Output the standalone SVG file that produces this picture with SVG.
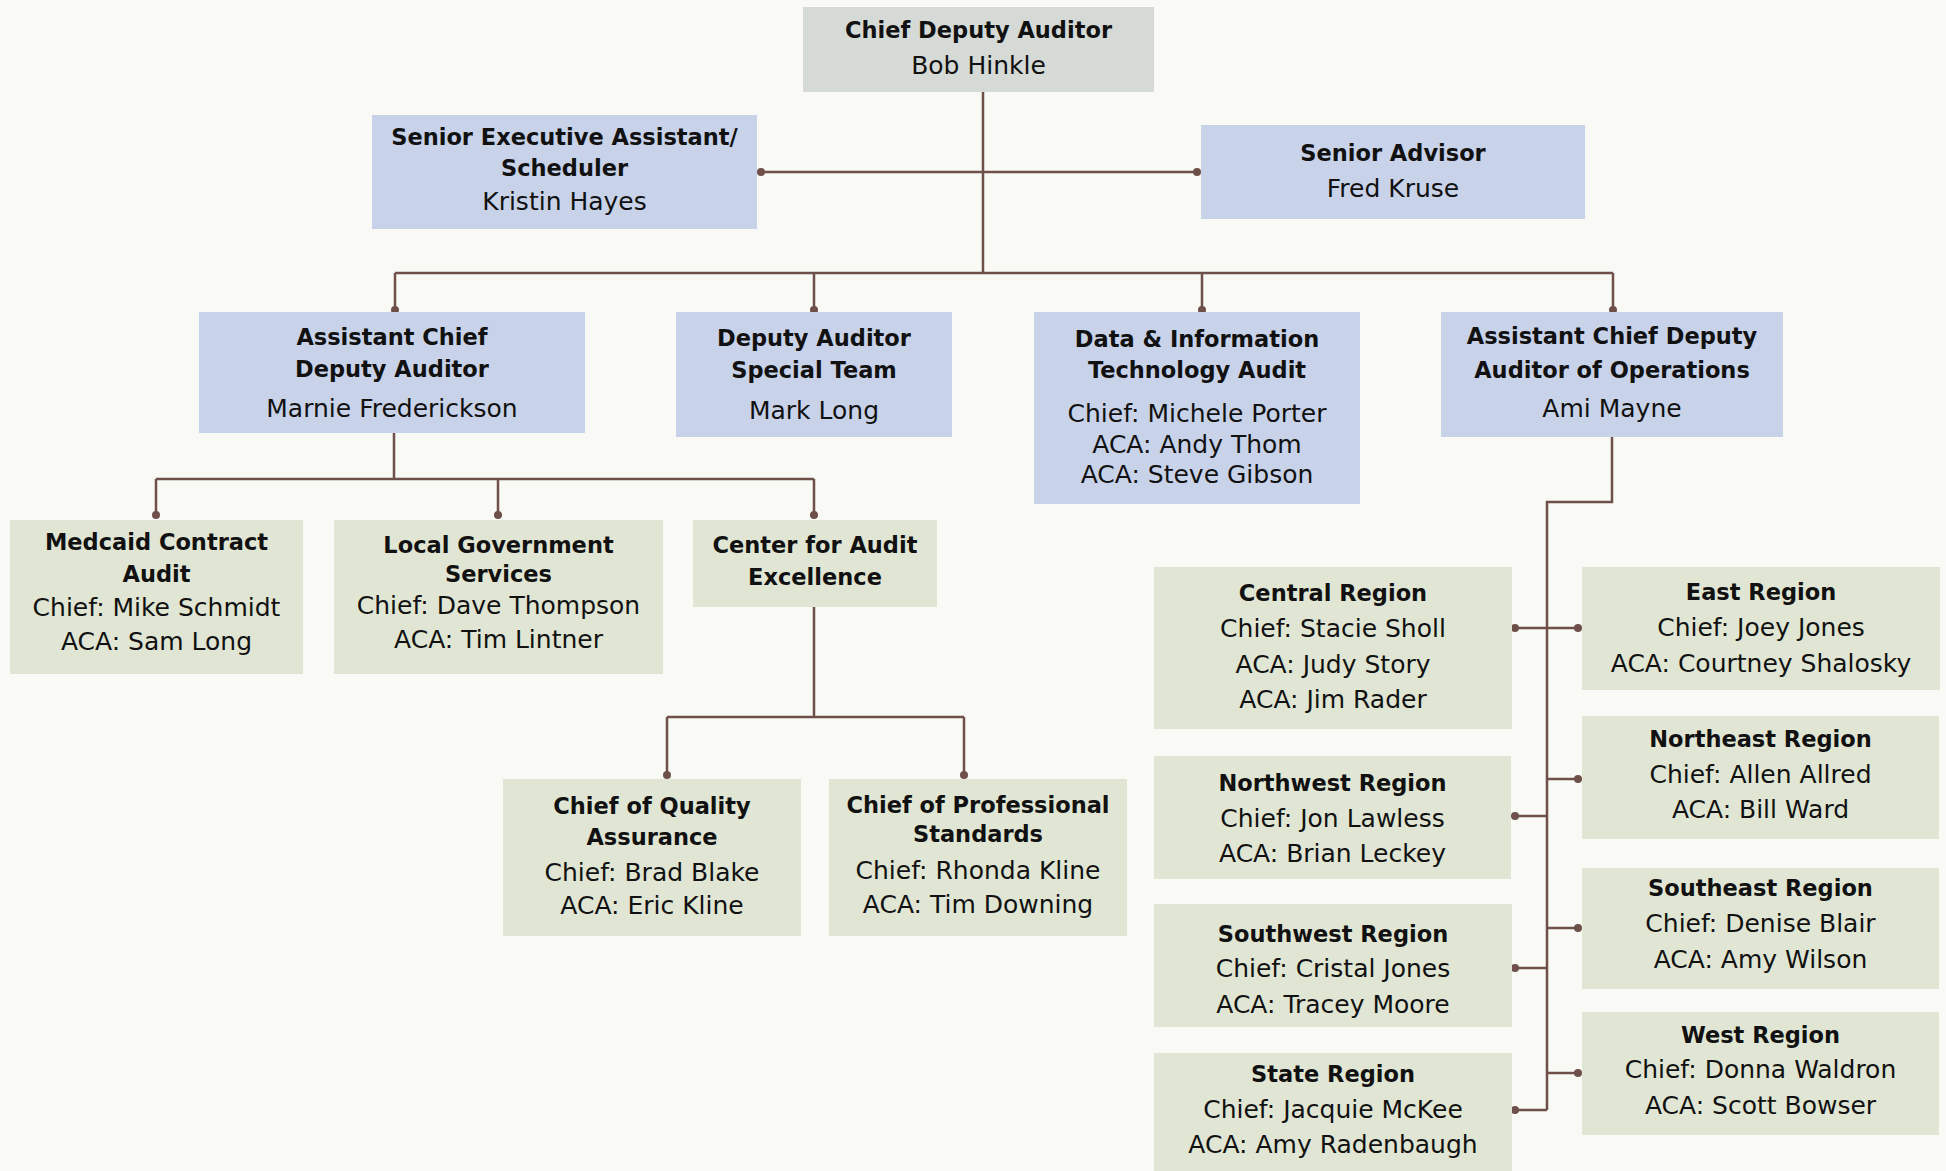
<svg xmlns="http://www.w3.org/2000/svg" width="1946" height="1171" viewBox="0 0 1946 1171">
<style>
.bg{fill:#f9f9f5}
.grey{fill:#d6dad6}
.blue{fill:#c8d3ea}
.green{fill:#e0e6d3}
text{font-family:"DejaVu Sans","Liberation Sans",sans-serif;text-anchor:middle;fill:#111}
.b{font-weight:bold;font-size:22.5px}
.r{font-size:25px}
.ln{stroke:#6e4f49;stroke-width:2.5;fill:none}
.dot{fill:#6e4f49}
</style>
<rect class="bg" x="0" y="0" width="1946" height="1171"/>

<g id="connectors">
<path class="ln" d="M983 92V273M761 172H1197M395 273H1613M395 273V310M814 273V310M1202 273V310M1613 273V310"/>
<path class="ln" d="M394 433V479M156 479H814M156 479V515M498 479V515M814 479V515"/>
<path class="ln" d="M814 607V717M667 717H964M667 717V775M964 717V775"/>
<path class="ln" d="M1612 437V502H1547V1110"/>
<path class="ln" d="M1515 628H1578M1515 816H1547M1547 779H1578M1547 928H1578M1515 968H1547M1515 1110H1547M1547 1073H1578"/>
<g class="dot">
<circle cx="761" cy="172" r="4"/><circle cx="1197" cy="172" r="4"/>
<circle cx="395" cy="310" r="4"/><circle cx="814" cy="310" r="4"/><circle cx="1202" cy="310" r="4"/><circle cx="1613" cy="310" r="4"/>
<circle cx="156" cy="515" r="4"/><circle cx="498" cy="515" r="4"/><circle cx="814" cy="515" r="4"/>
<circle cx="667" cy="775" r="4"/><circle cx="964" cy="775" r="4"/>
<circle cx="1515" cy="628" r="4"/><circle cx="1578" cy="628" r="4"/>
<circle cx="1515" cy="816" r="4"/><circle cx="1578" cy="779" r="4"/>
<circle cx="1578" cy="928" r="4"/><circle cx="1515" cy="968" r="4"/>
<circle cx="1515" cy="1110" r="4"/><circle cx="1578" cy="1073" r="4"/>
</g>
</g>

<g id="chief-deputy-auditor">
<rect class="grey" x="803" y="7" width="351" height="85"/>
<text class="b" x="978.5" y="38">Chief Deputy Auditor</text>
<text class="r" x="978.5" y="74">Bob Hinkle</text>
</g>
<g id="senior-exec-assistant">
<rect class="blue" x="372" y="115" width="385" height="114"/>
<text class="b" x="564.5" y="145">Senior Executive Assistant/</text>
<text class="b" x="564.5" y="176">Scheduler</text>
<text class="r" x="564.5" y="210">Kristin Hayes</text>
</g>
<g id="senior-advisor">
<rect class="blue" x="1201" y="125" width="384" height="94"/>
<text class="b" x="1393" y="161">Senior Advisor</text>
<text class="r" x="1393" y="197">Fred Kruse</text>
</g>
<g id="acda">
<rect class="blue" x="199" y="312" width="386" height="121"/>
<text class="b" x="392" y="345">Assistant Chief</text>
<text class="b" x="392" y="377">Deputy Auditor</text>
<text class="r" x="392" y="417">Marnie Frederickson</text>
</g>
<g id="special-team">
<rect class="blue" x="676" y="312" width="276" height="125"/>
<text class="b" x="814" y="346">Deputy Auditor</text>
<text class="b" x="814" y="378">Special Team</text>
<text class="r" x="814" y="419">Mark Long</text>
</g>
<g id="data-it-audit">
<rect class="blue" x="1034" y="312" width="326" height="192"/>
<text class="b" x="1197" y="347">Data &amp; Information</text>
<text class="b" x="1197" y="378">Technology Audit</text>
<text class="r" x="1197" y="422">Chief: Michele Porter</text>
<text class="r" x="1197" y="453">ACA: Andy Thom</text>
<text class="r" x="1197" y="483">ACA: Steve Gibson</text>
</g>
<g id="acda-operations">
<rect class="blue" x="1441" y="312" width="342" height="125"/>
<text class="b" x="1612" y="344">Assistant Chief Deputy</text>
<text class="b" x="1612" y="378">Auditor of Operations</text>
<text class="r" x="1612" y="417">Ami Mayne</text>
</g>
<g id="medcaid">
<rect class="green" x="10" y="520" width="293" height="154"/>
<text class="b" x="156.5" y="550">Medcaid Contract</text>
<text class="b" x="156.5" y="582">Audit</text>
<text class="r" x="156.5" y="616">Chief: Mike Schmidt</text>
<text class="r" x="156.5" y="650">ACA: Sam Long</text>
</g>
<g id="local-gov">
<rect class="green" x="334" y="520" width="329" height="154"/>
<text class="b" x="498.5" y="553">Local Government</text>
<text class="b" x="498.5" y="582">Services</text>
<text class="r" x="498.5" y="614">Chief: Dave Thompson</text>
<text class="r" x="498.5" y="648">ACA: Tim Lintner</text>
</g>
<g id="center-audit-excellence">
<rect class="green" x="693" y="520" width="244" height="87"/>
<text class="b" x="815" y="553">Center for Audit</text>
<text class="b" x="815" y="585">Excellence</text>
</g>
<g id="quality-assurance">
<rect class="green" x="503" y="779" width="298" height="157"/>
<text class="b" x="652" y="814">Chief of Quality</text>
<text class="b" x="652" y="845">Assurance</text>
<text class="r" x="652" y="881">Chief: Brad Blake</text>
<text class="r" x="652" y="914">ACA: Eric Kline</text>
</g>
<g id="professional-standards">
<rect class="green" x="829" y="779" width="298" height="157"/>
<text class="b" x="978" y="813">Chief of Professional</text>
<text class="b" x="978" y="842">Standards</text>
<text class="r" x="978" y="879">Chief: Rhonda Kline</text>
<text class="r" x="978" y="913">ACA: Tim Downing</text>
</g>
<g id="central-region">
<rect class="green" x="1154" y="567" width="358" height="162"/>
<text class="b" x="1333" y="601">Central Region</text>
<text class="r" x="1333" y="637">Chief: Stacie Sholl</text>
<text class="r" x="1333" y="673">ACA: Judy Story</text>
<text class="r" x="1333" y="708">ACA: Jim Rader</text>
</g>
<g id="east-region">
<rect class="green" x="1582" y="567" width="358" height="123"/>
<text class="b" x="1761" y="600">East Region</text>
<text class="r" x="1761" y="636">Chief: Joey Jones</text>
<text class="r" x="1761" y="672">ACA: Courtney Shalosky</text>
</g>
<g id="northwest-region">
<rect class="green" x="1154" y="756" width="357" height="123"/>
<text class="b" x="1332.5" y="791">Northwest Region</text>
<text class="r" x="1332.5" y="827">Chief: Jon Lawless</text>
<text class="r" x="1332.5" y="862">ACA: Brian Leckey</text>
</g>
<g id="northeast-region">
<rect class="green" x="1582" y="716" width="357" height="123"/>
<text class="b" x="1760.5" y="747">Northeast Region</text>
<text class="r" x="1760.5" y="783">Chief: Allen Allred</text>
<text class="r" x="1760.5" y="818">ACA: Bill Ward</text>
</g>
<g id="southwest-region">
<rect class="green" x="1154" y="904" width="358" height="123"/>
<text class="b" x="1333" y="942">Southwest Region</text>
<text class="r" x="1333" y="977">Chief: Cristal Jones</text>
<text class="r" x="1333" y="1013">ACA: Tracey Moore</text>
</g>
<g id="southeast-region">
<rect class="green" x="1582" y="868" width="357" height="121"/>
<text class="b" x="1760.5" y="896">Southeast Region</text>
<text class="r" x="1760.5" y="932">Chief: Denise Blair</text>
<text class="r" x="1760.5" y="968">ACA: Amy Wilson</text>
</g>
<g id="state-region">
<rect class="green" x="1154" y="1053" width="358" height="130"/>
<text class="b" x="1333" y="1082">State Region</text>
<text class="r" x="1333" y="1118">Chief: Jacquie McKee</text>
<text class="r" x="1333" y="1153">ACA: Amy Radenbaugh</text>
</g>
<g id="west-region">
<rect class="green" x="1582" y="1012" width="357" height="123"/>
<text class="b" x="1760.5" y="1043">West Region</text>
<text class="r" x="1760.5" y="1078">Chief: Donna Waldron</text>
<text class="r" x="1760.5" y="1114">ACA: Scott Bowser</text>
</g>
</svg>
